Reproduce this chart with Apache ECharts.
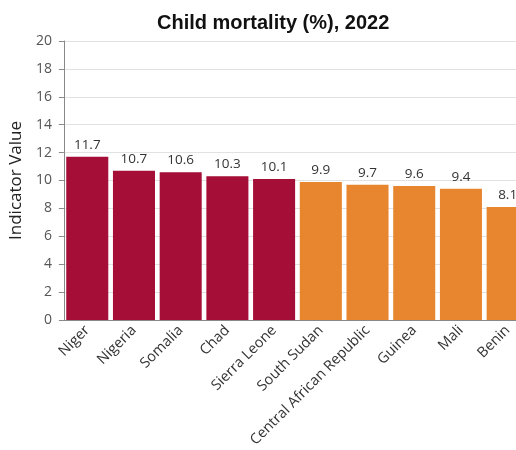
<!DOCTYPE html>
<html><head><meta charset="utf-8">
<script src="https://cdn.jsdelivr.net/npm/echarts@6/dist/echarts.min.js"></script>
<style>html,body{margin:0;padding:0;background:#fff;overflow:hidden;width:516px;height:450px}#c{width:531px;height:450px}</style>
</head><body><div id="c"></div>
<script>
const countries = ["Niger","Nigeria","Somalia","Chad","Sierra Leone","South Sudan","Central African Republic","Guinea","Mali","Benin"];
const values = [11.7,10.7,10.6,10.3,10.1,9.9,9.7,9.6,9.4,8.1];
const groups = [1,1,1,1,1,0,0,0,0,0];
const colorHigh = "#a50e36";
const colorLow = "#e8862f";
const chart = echarts.init(document.getElementById('c'));
chart.setOption({
  animation:false,
  title:{text:"Child mortality (%), 2022",left:152,top:8,textStyle:{fontFamily:"Liberation Sans",fontSize:20,fontWeight:'bold',color:'#111'}},
  grid:{left:62,right:0,top:41,bottom:129},
  xAxis:{type:'category',data:countries,
    axisTick:{alignWithLabel:true,lineStyle:{color:'#888'}},
    axisLine:{lineStyle:{color:'#888'}},
    axisLabel:{rotate:45,interval:0,fontFamily:"Open Sans",fontSize:14.5,color:'#333',margin:8}},
  yAxis:{type:'value',min:0,max:20,interval:2,
    name:"Indicator Value",nameLocation:'middle',nameGap:33,nameRotate:90,
    nameTextStyle:{fontFamily:"Open Sans",fontSize:17,color:'#222'},
    axisLine:{show:true,lineStyle:{color:'#888'}},
    axisTick:{show:true,lineStyle:{color:'#888'}},
    axisLabel:{fontFamily:"Open Sans",fontSize:14,color:'#555',margin:12},
    splitLine:{lineStyle:{color:'#e2e2e2'}}},
  series:[{type:'bar',barCategoryGap:'10%',
    data:values.map((v,i)=>({value:v,itemStyle:{color:groups[i]?colorHigh:colorLow}})),
    label:{show:true,position:'top',fontFamily:"Open Sans",fontSize:13.5,color:'#333'}}]
});
</script></body></html>
